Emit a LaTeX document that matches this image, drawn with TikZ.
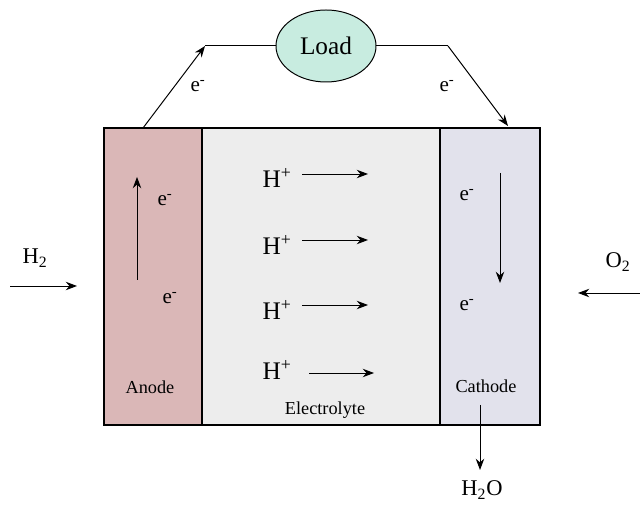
\documentclass[tikz,border=0pt]{standalone}
\usepackage{fontspec}
\setmainfont{Liberation Serif}
\usetikzlibrary{arrows.meta,positioning,shapes.geometric}
\definecolor{anodefill}{RGB}{218,183,183}
\definecolor{elecfill}{RGB}{237,237,237}
\definecolor{cathfill}{RGB}{226,226,236}
\definecolor{loadfill}{RGB}{200,236,224}

\begin{document}
\begin{tikzpicture}[>={Stealth[length=8pt,width=6pt]},line width=0.7pt,font=\fontsize{15}{18}\selectfont]
\tikzstyle{plate}=[draw,line width=1pt,minimum height=7.425cm,inner sep=0pt,outer sep=0pt,anchor=south west]
\tikzstyle{big}=[font=\fontsize{18}{20}\selectfont]
\tikzstyle{small}=[font=\fontsize{13}{15}\selectfont]
\useasboundingbox (0,0) rectangle (16,12.65);
% cell
\node[plate,minimum width=2.45cm,fill=anodefill] (anode) at (2.6,2.025) {};
\node[plate,minimum width=5.95cm,fill=elecfill] (elec) at (5.05,2.025) {};
\node[plate,minimum width=2.5cm,fill=cathfill] (cath) at (11.0,2.025) {};
\draw[line width=1.5pt] (cath.south west) -- (cath.north west);
\node[small] (anodelbl) at (3.75,2.975) {Anode};
\node[small] (eleclbl) at (8.125,2.4) {Electrolyte};
\node[small] (cathlbl) at (12.15,3.0) {Cathode};
% external circuit
\node[ellipse,draw,fill=loadfill,minimum width=2.5cm,minimum height=1.8cm,inner sep=0pt,big] (load) at (8.15,11.5) {Load};
\coordinate (aout) at (3.575,9.45); \coordinate (wl) at (5.125,11.5);
\coordinate (wr) at (11.2,11.5); \coordinate (cin) at (12.7,9.5);
\draw[->] (aout) -- (wl); \draw (wl) -- (load.west);
\draw (load.east) -- (wr); \draw[->] (wr) -- (cin);
\node (el1) at (4.95,10.5) {e\textsuperscript{-}};
\node (el2) at (11.175,10.5) {e\textsuperscript{-}};
% electrons in the electrodes
\node (ea1) at (4.125,7.65) {e\textsuperscript{-}};
\node (ea2) at (4.25,5.2) {e\textsuperscript{-}};
\coordinate (ab) at (3.425,5.65); \coordinate (at) at (3.425,8.225);
\draw[->] (ab) -- (at);
\node (ec1) at (11.675,7.775) {e\textsuperscript{-}};
\node (ec2) at (11.675,5.025) {e\textsuperscript{-}};
\coordinate (ct) at (12.5,8.325); \coordinate (cb) at (12.5,5.575);
\draw[->] (ct) -- (cb);
% protons
\foreach \i/\ly/\ay/\xa/\xb in {1/8.2/8.3/7.55/9.2,2/6.525/6.65/7.55/9.2,3/4.9/5.025/7.55/9.2,4/3.4/3.325/7.725/9.35} {
  \node[big] (h\i) at (6.925,\ly) {H\textsuperscript{+}};
  \coordinate (hs\i) at (\xa,\ay); \coordinate (he\i) at (\xb,\ay);
  \draw[->] (hs\i) -- (he\i);
}
% gases
\node[font=\fontsize{16}{18}\selectfont] (htwo) at (0.875,6.2) {H\textsubscript{2}};
\coordinate (hin) at (0.25,5.5); \coordinate (hend) at (1.925,5.5);
\draw[->] (hin) -- (hend);
\node[font=\fontsize{16}{18}\selectfont] (otwo) at (15.45,6.1) {O\textsubscript{2}};
\coordinate (oin) at (16,5.325); \coordinate (oend) at (14.45,5.325);
\draw[->] (oin) -- (oend);
\coordinate (wout) at (12.0,2.525); \coordinate (wend) at (12.0,0.9);
\draw[->] (wout) -- (wend);
\node[font=\fontsize{16}{18}\selectfont] (water) at (12.05,0.4) {H\textsubscript{2}O};
\end{tikzpicture}
\end{document}
